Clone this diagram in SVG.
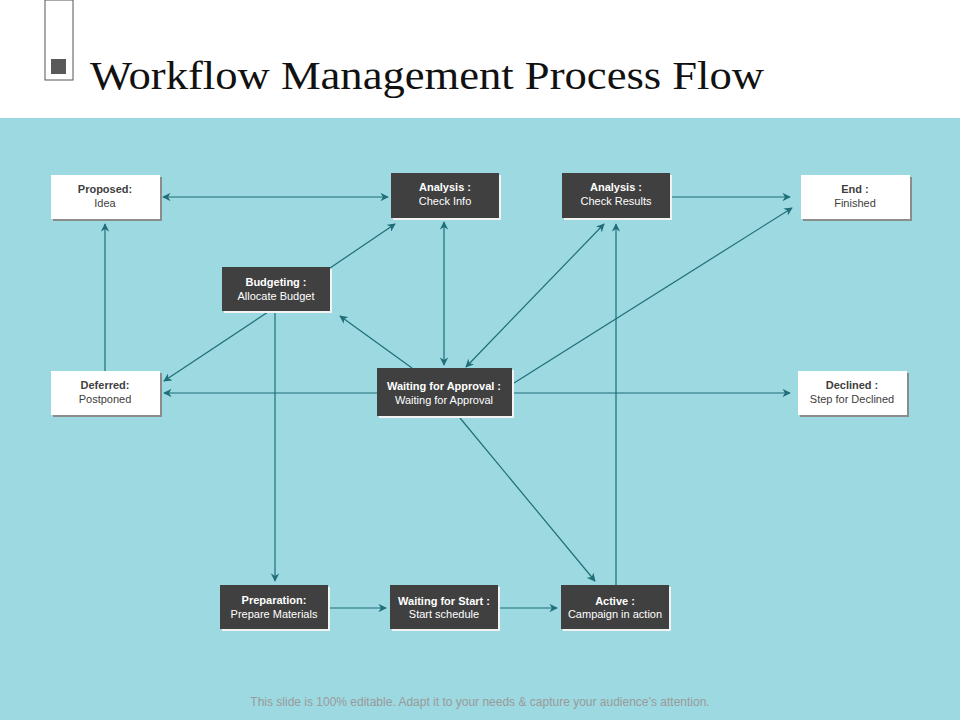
<svg xmlns="http://www.w3.org/2000/svg" width="960" height="720" viewBox="0 0 960 720">
<defs>
<style>
.dk{fill:#404040}
.dks{fill:#f2f2f2}
.wt{fill:#ffffff}
.wts{fill:#8c8c8c}
.t{font-family:"Liberation Sans",Arial,sans-serif;font-size:11px;text-anchor:middle}
.b{font-weight:bold}
.tw{fill:#ffffff}
.tk{fill:#404040}
.c line{stroke:#1f6e78;stroke-width:1.2;fill:none}
</style>
<marker id="a" viewBox="0 0 10 10" refX="9" refY="5" markerWidth="7" markerHeight="7" orient="auto-start-reverse"><path d="M0,0 L10,5 L0,10 L3,5 z" fill="#1f6e78"/></marker>
</defs>
<rect width="960" height="720" fill="#ffffff"/>
<rect y="118" width="960" height="602" fill="#9dd9e1"/>
<rect x="45" y="0" width="28" height="80" fill="#fff" stroke="#555" stroke-width="1"/>
<rect x="51" y="59" width="15" height="15" fill="#595959"/>
<text x="90" y="89" font-family="'Liberation Serif','DejaVu Serif',serif" font-size="40" fill="#111" textLength="674" lengthAdjust="spacingAndGlyphs">Workflow Management Process Flow</text>

<g class="c">
<line x1="163" y1="197" x2="388" y2="197" marker-start="url(#a)" marker-end="url(#a)"/>
<line x1="105" y1="371" x2="105" y2="224" marker-end="url(#a)"/>
<line x1="330" y1="268" x2="395" y2="224" marker-end="url(#a)"/>
<line x1="268" y1="312" x2="164" y2="381" marker-end="url(#a)"/>
<line x1="275" y1="313" x2="275" y2="581" marker-end="url(#a)"/>
<line x1="412" y1="368" x2="340" y2="316" marker-end="url(#a)"/>
<line x1="444" y1="222" x2="444" y2="365" marker-start="url(#a)" marker-end="url(#a)"/>
<line x1="466" y1="367" x2="604" y2="224" marker-start="url(#a)" marker-end="url(#a)"/>
<line x1="514" y1="383" x2="792" y2="208" marker-end="url(#a)"/>
<line x1="377" y1="393" x2="164" y2="393" marker-end="url(#a)"/>
<line x1="512" y1="393" x2="790" y2="393" marker-end="url(#a)"/>
<line x1="460" y1="418" x2="595" y2="581" marker-end="url(#a)"/>
<line x1="616" y1="585" x2="616" y2="224" marker-end="url(#a)"/>
<line x1="672" y1="197" x2="790" y2="197" marker-end="url(#a)"/>
<line x1="330" y1="608" x2="386" y2="608" marker-end="url(#a)"/>
<line x1="500" y1="608" x2="557" y2="608" marker-end="url(#a)"/>
</g>

<g id="proposed"><rect class="wts" x="53" y="177" width="109" height="44"/><rect class="wt" x="51" y="175" width="109" height="44"/>
<text class="t tk b" x="105" y="193">Proposed:</text><text class="t tk" x="105" y="207">Idea</text></g>
<g id="analysis-info"><rect class="dks" x="393" y="175" width="108" height="45"/><rect class="dk" x="391" y="173" width="108" height="45"/>
<text class="t tw b" x="445" y="191">Analysis :</text><text class="t tw" x="445" y="205">Check Info</text></g>
<g id="analysis-results"><rect class="dks" x="564" y="175" width="108" height="45"/><rect class="dk" x="562" y="173" width="108" height="45"/>
<text class="t tw b" x="616" y="191">Analysis :</text><text class="t tw" x="616" y="205">Check Results</text></g>
<g id="end"><rect class="wts" x="803" y="177" width="109" height="44"/><rect class="wt" x="801" y="175" width="109" height="44"/>
<text class="t tk b" x="855" y="193">End :</text><text class="t tk" x="855" y="207">Finished</text></g>
<g id="budgeting"><rect class="dks" x="224" y="269" width="108" height="44"/><rect class="dk" x="222" y="267" width="108" height="44"/>
<text class="t tw b" x="276" y="286">Budgeting :</text><text class="t tw" x="276" y="300">Allocate Budget</text></g>
<g id="deferred"><rect class="wts" x="53" y="373" width="109" height="44"/><rect class="wt" x="51" y="371" width="109" height="44"/>
<text class="t tk b" x="105" y="389">Deferred:</text><text class="t tk" x="105" y="403">Postponed</text></g>
<g id="waiting-approval"><rect class="dks" x="379" y="370" width="135" height="48"/><rect class="dk" x="377" y="368" width="135" height="48"/>
<text class="t tw b" x="444" y="390">Waiting for Approval :</text><text class="t tw" x="444" y="404" font-size="10">Waiting for Approval</text></g>
<g id="declined"><rect class="wts" x="800" y="373" width="109" height="44"/><rect class="wt" x="798" y="371" width="109" height="44"/>
<text class="t tk b" x="852" y="389">Declined :</text><text class="t tk" x="852" y="403">Step for Declined</text></g>
<g id="preparation"><rect class="dks" x="222" y="587" width="108" height="44"/><rect class="dk" x="220" y="585" width="108" height="44"/>
<text class="t tw b" x="274" y="604">Preparation:</text><text class="t tw" x="274" y="618">Prepare Materials</text></g>
<g id="waiting-start"><rect class="dks" x="392" y="587" width="108" height="44"/><rect class="dk" x="390" y="585" width="108" height="44"/>
<text class="t tw b" x="444" y="605">Waiting for Start :</text><text class="t tw" x="444" y="618" font-size="10">Start schedule</text></g>
<g id="active"><rect class="dks" x="563" y="587" width="108" height="44"/><rect class="dk" x="561" y="585" width="108" height="44"/>
<text class="t tw b" x="615" y="605" font-size="13">Active :</text><text class="t tw" x="615" y="618" font-size="10">Campaign  in action</text></g>

<text x="480" y="706" font-family="'Liberation Sans',Arial,sans-serif" font-size="12" fill="#9a9a9a" text-anchor="middle">This slide is 100% editable. Adapt it to your needs &amp; capture your audience’s attention.</text>
</svg>
